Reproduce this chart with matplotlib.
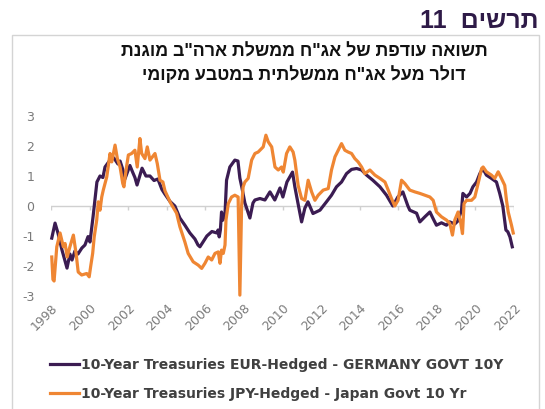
import matplotlib
matplotlib.use("Agg")
import matplotlib.pyplot as plt
from matplotlib.patches import Rectangle

# ---- data ----
eur_years = [1998.04, 1998.21, 1998.36, 1998.57, 1998.83, 1998.98, 1999.09, 1999.24, 1999.40, 1999.60,
             1999.76, 1999.92, 2000.02, 2000.18, 2000.38, 2000.54, 2000.69, 2000.80, 2001.06, 2001.26,
             2001.47, 2001.58, 2001.73, 2001.83, 2002.09, 2002.25, 2002.35, 2002.46, 2002.72, 2002.92,
             2003.13, 2003.34, 2003.54, 2003.75, 2003.90, 2004.17, 2004.42, 2004.68, 2004.94, 2005.20,
             2005.46, 2005.62, 2005.72, 2005.88, 2006.08, 2006.34, 2006.60, 2006.66, 2006.72, 2006.78,
             2006.84, 2006.91, 2007.02, 2007.10, 2007.27, 2007.53, 2007.69, 2007.79, 2007.90, 2008.05,
             2008.14, 2008.31, 2008.47, 2008.57, 2008.83, 2009.09, 2009.35, 2009.60, 2009.87, 2010.02,
             2010.23, 2010.52, 2010.64, 2010.80, 2010.99, 2011.16, 2011.32, 2011.58, 2011.94, 2012.28,
             2012.54, 2012.80, 2013.06, 2013.32, 2013.58, 2013.84, 2014.10, 2014.36, 2014.68, 2015.05,
             2015.39, 2015.72, 2015.98, 2016.24, 2016.50, 2016.60, 2016.95, 2017.12, 2017.38, 2017.64,
             2017.79, 2017.98, 2018.24, 2018.50, 2018.67, 2018.93, 2019.09, 2019.28, 2019.35, 2019.54,
             2019.72, 2019.87, 2020.06, 2020.23, 2020.38, 2020.57, 2020.83, 2021.09, 2021.26, 2021.42,
             2021.58, 2021.68, 2021.79, 2021.91]
eur_values = [-1.07, -0.57, -0.90, -1.47, -2.07, -1.60, -1.80, -1.50, -1.60, -1.40,
              -1.30, -1.02, -1.20, -0.36, 0.80, 1.00, 0.95, 1.30, 1.53, 1.60,
              1.40, 1.50, 1.20, 0.90, 1.35, 1.10, 0.95, 0.70, 1.26, 1.00,
              1.00, 0.85, 0.90, 0.55, 0.40, 0.15, 0.00, -0.40, -0.64, -0.90,
              -1.10, -1.30, -1.36, -1.20, -1.00, -0.85, -0.90, -0.80, -1.03, -0.80,
              -0.20, -0.47, -0.25, 0.86, 1.30, 1.53, 1.50, 0.93, 0.60, 0.10,
              -0.07, -0.40, 0.10, 0.20, 0.25, 0.20, 0.47, 0.20, 0.60, 0.30,
              0.80, 1.13, 0.64, 0.10, -0.53, -0.07, 0.14, -0.25, -0.14, 0.14,
              0.36, 0.64, 0.80, 1.08, 1.22, 1.25, 1.20, 1.03, 0.86, 0.64,
              0.36, 0.00, 0.30, 0.47, 0.00, -0.14, -0.24, -0.53, -0.36, -0.20,
              -0.40, -0.64, -0.56, -0.64, -0.53, -0.60, -0.50, -0.14, 0.42, 0.30,
              0.42, 0.64, 0.80, 1.08, 1.25, 1.03, 0.92, 0.80, 0.42, 0.00,
              -0.80, -0.86, -1.03, -1.36]

jpy_years = [1998.04, 1998.10, 1998.16, 1998.30, 1998.47, 1998.64, 1998.73, 1998.84, 1998.98, 1999.16,
             1999.30, 1999.41, 1999.59, 1999.85, 1999.98, 2000.06, 2000.16, 2000.24, 2000.37, 2000.45,
             2000.54, 2000.63, 2000.71, 2000.80, 2000.89, 2001.06, 2001.15, 2001.32, 2001.44, 2001.58,
             2001.72, 2001.78, 2001.89, 2002.01, 2002.18, 2002.35, 2002.47, 2002.61, 2002.70, 2002.87,
             2002.99, 2003.13, 2003.39, 2003.51, 2003.65, 2003.80, 2003.91, 2004.20, 2004.51, 2004.68,
             2004.94, 2005.11, 2005.37, 2005.63, 2005.81, 2005.98, 2006.15, 2006.33, 2006.50, 2006.67,
             2006.76, 2006.84, 2006.93, 2007.02, 2007.07, 2007.19, 2007.36, 2007.53, 2007.70, 2007.79,
             2007.88, 2007.96, 2008.05, 2008.22, 2008.40, 2008.57, 2008.74, 2009.00, 2009.14, 2009.26,
             2009.44, 2009.61, 2009.78, 2009.95, 2010.04, 2010.21, 2010.38, 2010.55, 2010.64, 2010.81,
             2010.99, 2011.16, 2011.33, 2011.51, 2011.68, 2011.85, 2012.11, 2012.37, 2012.54, 2012.72,
             2012.89, 2013.06, 2013.23, 2013.40, 2013.58, 2013.75, 2013.92, 2014.10, 2014.27, 2014.53,
             2014.79, 2015.05, 2015.31, 2015.48, 2015.65, 2015.82, 2015.99, 2016.17, 2016.34, 2016.60,
             2016.86, 2017.12, 2017.38, 2017.64, 2017.81, 2017.98, 2018.24, 2018.50, 2018.67, 2018.81,
             2018.93, 2019.10, 2019.23, 2019.33, 2019.41, 2019.54, 2019.80, 2019.97, 2020.14, 2020.32,
             2020.40, 2020.57, 2020.83, 2021.00, 2021.18, 2021.35, 2021.52, 2021.61, 2021.70, 2021.87,
             2021.96]
jpy_values = [-1.70, -2.45, -2.50, -1.36, -0.90, -1.36, -1.25, -1.70, -1.36, -0.97,
              -1.58, -2.20, -2.30, -2.25, -2.36, -2.00, -1.58, -1.03, -0.47, 0.14,
              -0.14, 0.30, 0.53, 0.75, 0.97, 1.75, 1.47, 2.03, 1.58, 1.30,
              0.75, 0.64, 1.20, 1.70, 1.75, 1.86, 1.30, 2.25, 1.75, 1.58,
              1.97, 1.53, 1.75, 1.41, 0.86, 0.80, 0.50, 0.10, -0.24, -0.69,
              -1.20, -1.58, -1.86, -1.97, -2.08, -1.91, -1.70, -1.80, -1.58, -1.53,
              -1.91, -1.47, -1.58, -1.30, -0.47, 0.08, 0.30, 0.36, 0.30, -2.97,
              0.00, 0.64, 0.80, 0.92, 1.53, 1.75, 1.80, 1.97, 2.36, 2.14,
              1.97, 1.30, 1.20, 1.30, 1.13, 1.75, 1.97, 1.80, 1.53, 0.69,
              0.25, 0.19, 0.86, 0.47, 0.19, 0.36, 0.53, 0.58, 1.20, 1.64,
              1.86, 2.08, 1.86, 1.80, 1.75, 1.58, 1.47, 1.30, 1.08, 1.20,
              1.03, 0.92, 0.80, 0.53, 0.25, 0.00, 0.19, 0.86, 0.75, 0.53,
              0.47, 0.42, 0.36, 0.30, 0.19, -0.20, -0.36, -0.47, -0.58, -0.97,
              -0.47, -0.20, -0.53, -0.92, 0.08, 0.19, 0.19, 0.30, 0.75, 1.25,
              1.30, 1.14, 1.03, 0.92, 1.14, 0.92, 0.69, 0.19, -0.20, -0.64,
              -0.90]

x_ticks = list(range(1998, 2023, 2))
y_ticks = [-3, -2, -1, 0, 1, 2, 3]

label_eur = "10-Year Treasuries EUR-Hedged - GERMANY GOVT 10Y"
label_jpy = "10-Year Treasuries JPY-Hedged - Japan Govt 10 Yr"
chart_no = "תרשים"
title_lines = ['תשואה עודפת של אג"ח ממשלת ארה"ב מוגנת',
               'דולר מעל אג"ח ממשלתית במטבע מקומי']

PURPLE = "#3b1c52"
ORANGE = "#ef8633"
W, H = 545, 409


def rtl(s):
    # matplotlib has no bidi support: flip Hebrew to visual order
    return s[::-1]


def fx(px):
    return px / W


def fy(py):
    return 1 - py / H


fig = plt.figure(figsize=(W / 100, H / 100), dpi=100)
fig.patch.set_facecolor("white")

# frame around chart
fig.patches.append(Rectangle((fx(12), fy(420)), fx(539) - fx(12), fy(35) - fy(420),
                             transform=fig.transFigure, fill=False,
                             edgecolor="#d4d4d4", linewidth=1.0))

# chart number, top right
fig.text(fx(538), fy(21), "11  " + rtl(chart_no), ha="right", va="center",
         fontsize=18, fontweight="bold", color="#2e1a47", family="Liberation Sans")

for i, line in enumerate(title_lines):
    fig.text(fx(304), fy(52 + i * 23), rtl(line), ha="center", va="center",
             fontsize=12.8, fontweight="bold", color="#111111",
             family=["Liberation Sans", "DejaVu Sans"])

ax = fig.add_axes([fx(51), fy(296), fx(514) - fx(51), fy(116) - fy(296)])
ax.set_xlim(1998, 2022)
ax.set_ylim(-3, 3)

ax.axhline(0, color="#d0d0d0", linewidth=1.0, zorder=1)
ax.vlines(x_ticks, -0.13, 0, color="#d0d0d0", linewidth=1.0, zorder=1)

ax.plot(eur_years, eur_values, color=PURPLE, linewidth=2.3, label=label_eur,
        zorder=3, clip_on=False, solid_joinstyle="round")
ax.plot(jpy_years, jpy_values, color=ORANGE, linewidth=2.3, label=label_jpy,
        zorder=4, clip_on=False, solid_joinstyle="round")

for s in ax.spines.values():
    s.set_visible(False)
ax.set_xticks(x_ticks)
ax.set_yticks(y_ticks)
ax.set_yticklabels([str(v) for v in y_ticks])
ax.tick_params(axis="both", length=0, colors="#7a7a7a", labelsize=9)
ax.tick_params(axis="y", pad=12)
ax.tick_params(axis="x", pad=4)
for lab in ax.get_xticklabels():
    lab.set_rotation(45)
    lab.set_ha("right")
    lab.set_va("top")
    lab.set_rotation_mode("anchor")

leg = ax.legend(loc="upper left", bbox_to_anchor=(fx(50), fy(358)),
                bbox_transform=fig.transFigure, frameon=False, borderpad=0,
                borderaxespad=0, handlelength=2.1, handletextpad=0.15,
                labelspacing=1.05, prop={"weight": "bold", "size": 10})
for t in leg.get_texts():
    t.set_color("#404040")

fig.savefig("out.png", dpi=100)
